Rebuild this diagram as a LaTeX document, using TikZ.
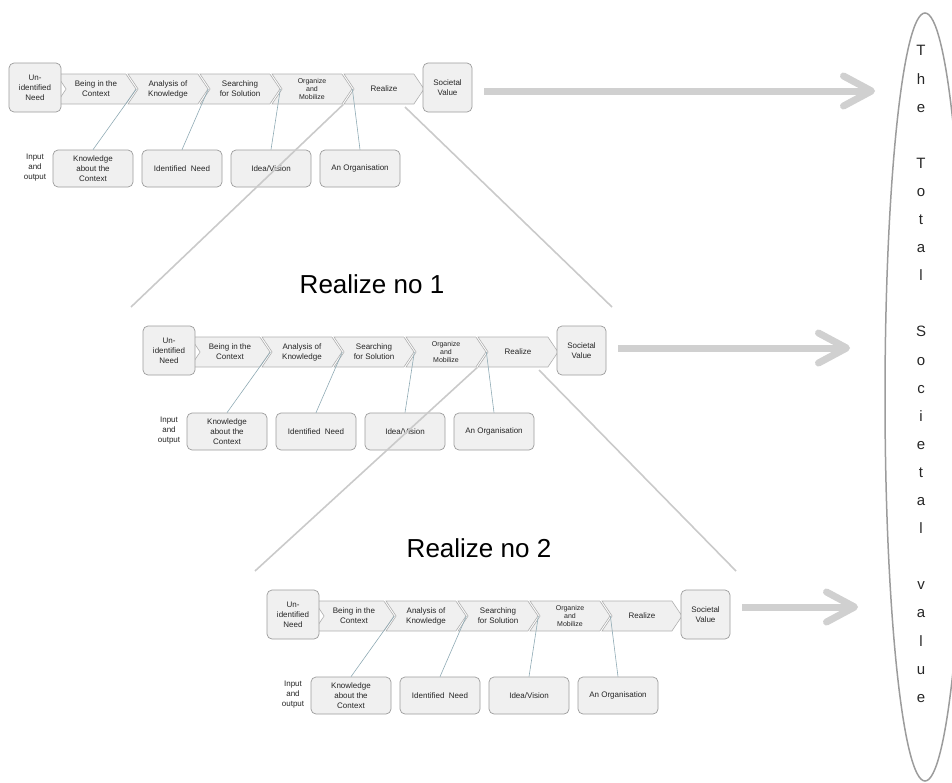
\documentclass[tikz,border=0pt]{standalone}
\usepackage{fontspec}
\setmainfont{Liberation Sans}
\usetikzlibrary{shapes.symbols,shapes.geometric,arrows.meta}
\definecolor{boxfill}{HTML}{F0F0F0}
\definecolor{boxline}{HTML}{9C9C9C}
\definecolor{linkline}{HTML}{8FAAB4}
\definecolor{zoomgrey}{HTML}{CACACA}
\definecolor{arrowgrey}{HTML}{D0D0D0}

\begin{document}
\begin{tikzpicture}[x=1pt,y=-1pt,
	every node/.style={font=\fontsize{8}{10}\selectfont,text=black!85,align=center,inner sep=0pt},
	box/.style={draw=boxline,fill=boxfill,rounded corners=5pt,line width=0.7pt},
	stage/.style={draw=boxline!80,fill=boxfill,line width=0.6pt,signal,signal to=east,signal from=west,signal pointer angle=112,minimum width=80pt,minimum height=30pt},
	link/.style={draw=linkline,line width=0.6pt},
	zoomline/.style={draw=zoomgrey,line width=1.6pt},
	bigarrow/.style={draw=arrowgrey,line width=7pt,-{Straight Barb[length=28pt,width=30pt,round]}}]
		\useasboundingbox (0,0) rectangle (952,782);
		
		\foreach \r/\dx/\dy/\tip/\ty in {1/0/0/875/91, 2/134/263/716/85, 3/258/527/600/80}{
		\begin{scope}[shift={(\dx,\dy)}]
		\node [stage] (\r-c1) at (96,89) {Being in the\\Context};
		\node [stage] (\r-c2) at (168,89) {Analysis of\\Knowledge};
		\node [stage] (\r-c3) at (240,89) {Searching\\for Solution};
		\node [stage,font=\fontsize{7}{8}\selectfont] (\r-c4) at (312,89) {Organize\\and\\Mobilize};
		\node [stage] (\r-c5) at (384,89) {Realize};
		\node [box,minimum width=52pt,minimum height=49pt] (\r-need) at (35,87.5) {Un-\\identified\\Need};
		\node [box,minimum width=49pt,minimum height=49pt] (\r-value) at (447.5,87.5) {Societal\\Value};
		
		\node (\r-io) at (35,168) {Input\\and\\output};
		\node [box,minimum width=80pt,minimum height=37pt] (\r-know) at (93,168.5) {Knowledge\\about the\\Context};
		\node [box,minimum width=80pt,minimum height=37pt] (\r-ident) at (182,168.5) {Identified\ \ Need};
		\node [box,minimum width=80pt,minimum height=37pt] (\r-idea) at (271,168.5) {Idea/Vision};
		\node [box,minimum width=80pt,minimum height=37pt] (\r-org) at (360,168.5) {An Organisation};
		
		\draw [link] (\r-know.north) -- (\r-c1.east);
		\draw [link] (\r-ident.north) -- (\r-c2.east);
		\draw [link] (\r-idea.north) -- (\r-c3.east);
		\draw [link] (\r-org.north) -- (\r-c4.east);
		
		\coordinate (\r-in-l) at (-3,44);
		\coordinate (\r-in-r) at (478,44);
		\coordinate (\r-out-r) at (405,107);
		\coordinate (\r-tip) at (\tip,\ty);
		\draw [bigarrow] ([xshift=12pt]\r-value.east |- \r-tip) -- (\r-tip);
		\end{scope}}
		
		\draw [zoomline] (1-c5.south west) -- (2-in-l);
		\draw [zoomline] (1-out-r) -- (2-in-r);
		\draw [zoomline] (2-c5.south west) -- (3-in-l);
		\draw [zoomline] (2-out-r) -- (3-in-r);
		\node [font=\fontsize{26}{30}\selectfont,text=black] (no1) at (372,284) {Realize no 1};
		\node [font=\fontsize{26}{30}\selectfont,text=black] (no2) at (479,548) {Realize no 2};
		
		\node [draw=boxline,line width=1.5pt,ellipse,minimum width=80pt,minimum height=768pt] (total) at (925,397) {};
		\node [font=\fontsize{15}{28.1}\selectfont] (totaltext) at (921,374) {T\\h\\e\\~\\T\\o\\t\\a\\l\\~\\S\\o\\c\\i\\e\\t\\a\\l\\~\\v\\a\\l\\u\\e};
\end{tikzpicture}
\end{document}
